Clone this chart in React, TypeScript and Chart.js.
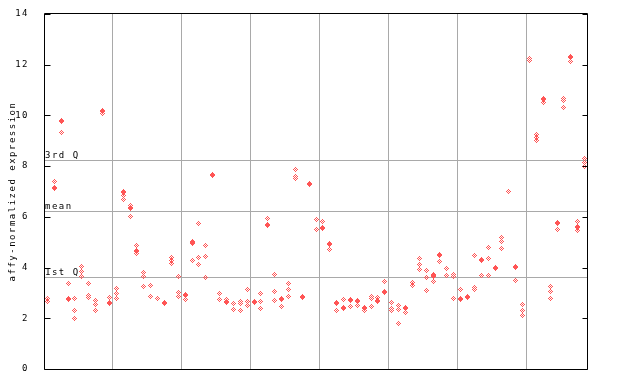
import React, { useEffect, useRef } from "react";
import { Chart, registerables } from "chart.js";

Chart.register(...registerables);

// replicate values for each of the 79 samples (left to right)
const sampleValues: number[][] = [
  [2.8, 2.65],
  [7.4, 7.15, 7.12],
  [9.8, 9.76, 9.33],
  [3.38, 2.78, 2.75],
  [2.79, 2.29, 2.01],
  [4.06, 3.85, 3.65],
  [3.38, 2.9, 2.81],
  [2.72, 2.56, 2.29],
  [10.2, 10.16, 10.08],
  [2.81, 2.62, 2.58],
  [3.18, 2.98, 2.79],
  [7.0, 6.96, 6.86, 6.69],
  [6.44, 6.37, 6.33, 6.03],
  [4.88, 4.69, 4.65, 4.56],
  [3.81, 3.63, 3.27],
  [3.3, 2.87],
  [2.79],
  [2.62, 2.58],
  [4.39, 4.29, 4.17],
  [3.63, 3.02, 2.87],
  [2.93, 2.89, 2.75],
  [5.04, 4.99, 4.95, 4.29],
  [5.74, 4.4, 4.13],
  [4.88, 4.44, 3.61],
  [7.68, 7.64],
  [2.98, 2.76],
  [2.75, 2.67, 2.63],
  [2.59, 2.35],
  [2.67, 2.58, 2.31],
  [3.14, 2.67, 2.51],
  [2.65, 2.61],
  [2.98, 2.67, 2.39],
  [5.94, 5.7, 5.66],
  [3.73, 3.06, 2.71],
  [2.79, 2.75, 2.47],
  [3.38, 3.14, 2.87],
  [7.87, 7.58, 7.5],
  [2.85, 2.81],
  [7.33, 7.29],
  [5.9, 5.51],
  [5.82, 5.59, 5.55],
  [4.96, 4.92, 4.72],
  [2.63, 2.59, 2.31],
  [2.75, 2.44, 2.4],
  [2.75, 2.71, 2.47],
  [2.71, 2.67, 2.51],
  [2.44, 2.4, 2.31],
  [2.85, 2.77, 2.47],
  [2.81, 2.71, 2.67],
  [3.46, 3.07, 3.03],
  [2.63, 2.39, 2.31],
  [2.51, 2.35, 1.8],
  [2.44, 2.4, 2.24],
  [3.4, 3.3],
  [4.34, 4.14, 3.93],
  [3.89, 3.61, 3.1],
  [3.73, 3.67, 3.63, 3.46],
  [4.53, 4.49, 4.25],
  [3.97, 3.69],
  [3.73, 3.66, 2.79],
  [3.14, 2.8, 2.76],
  [2.85, 2.81],
  [4.46, 3.2, 3.12],
  [4.33, 4.29, 3.69],
  [4.8, 4.36, 3.69],
  [4.01, 3.97],
  [5.2, 5.04, 4.76],
  [7.01],
  [4.05, 4.01, 3.5],
  [2.55, 2.3, 2.1],
  [12.25, 12.18],
  [9.25, 9.14, 9.03],
  [10.65, 10.61, 10.52],
  [3.27, 3.05, 2.79],
  [5.76, 5.72, 5.51],
  [10.67, 10.6, 10.32],
  [12.34, 12.3, 12.13],
  [5.8, 5.61, 5.57, 5.47],
  [8.31, 8.15, 7.99],
];

const yTickValues = [0, 2, 4, 6, 8, 10, 12, 14];
const groupBoundaries = [9.5, 19.5, 29.5, 39.5, 49.5, 59.5, 69.5];
const quartileValues = [3.63, 6.23, 8.23];
const quartileLabels = ["1st Q", "mean", "3rd Q"];
const yTitle = "affy-normalized expression";

const POINT_COLOR = "#ff5555";
const GRID_COLOR = "#a9a9a9";
const FONT = "DejaVu Sans Mono";

function makeDiamond(color: string): HTMLCanvasElement {
  const c = document.createElement("canvas");
  c.width = 5;
  c.height = 5;
  const g = c.getContext("2d")!;
  g.fillStyle = color;
  for (let y = 0; y < 5; y++) {
    for (let x = 0; x < 5; x++) {
      if (Math.abs(x - 2) + Math.abs(y - 2) <= 2 && (x + y) % 2 === 0) {
        g.fillRect(x, y, 1, 1);
      }
    }
  }
  return c;
}

const framePlugin = {
  id: "framePlugin",
  beforeDraw(chart: any) {
    chart.ctx.letterSpacing = "1.5px";
  },
  beforeDatasetsDraw(chart: any) {
    const { ctx, chartArea, scales } = chart;
    const y = scales.y;
    ctx.save();
    ctx.strokeStyle = GRID_COLOR;
    ctx.lineWidth = 1;
    quartileValues.forEach((v) => {
      const py = Math.round(y.getPixelForValue(v)) + 0.5;
      ctx.beginPath();
      ctx.moveTo(chartArea.left, py);
      ctx.lineTo(chartArea.right, py);
      ctx.stroke();
    });
    ctx.restore();
    ctx.imageSmoothingEnabled = false;
  },
  afterDraw(chart: any) {
    const { ctx, chartArea, scales } = chart;
    const y = scales.y;
    ctx.save();
    ctx.letterSpacing = "1.5px";
    ctx.font = `9px ${FONT}`;
    ctx.fillStyle = "#000";
    ctx.textAlign = "left";
    ctx.textBaseline = "bottom";
    quartileValues.forEach((v, i) => {
      const py = Math.round(y.getPixelForValue(v));
      ctx.fillText(quartileLabels[i], chartArea.left + 1, py);
    });
    ctx.strokeStyle = "#000";
    ctx.lineWidth = 1;
    const l = Math.floor(chartArea.left) + 0.5;
    const r = Math.floor(chartArea.right) - 0.5;
    const t = Math.floor(chartArea.top) - 0.5;
    const b = Math.floor(chartArea.bottom) + 0.5;
    ctx.beginPath();
    ctx.moveTo(l, t);
    ctx.lineTo(r, t);
    ctx.lineTo(r, b);
    ctx.lineTo(l, b);
    ctx.closePath();
    ctx.stroke();
    yTickValues.forEach((v) => {
      const py = Math.round(y.getPixelForValue(v)) + 0.5;
      ctx.beginPath();
      ctx.moveTo(l, py);
      ctx.lineTo(l + 6, py);
      ctx.moveTo(r, py);
      ctx.lineTo(r - 5, py);
      ctx.stroke();
    });
    ctx.restore();
    ctx.letterSpacing = "0px";
  },
};

export default function App() {
  const canvasRef = useRef<HTMLCanvasElement | null>(null);

  useEffect(() => {
    document.body.style.margin = "0";
    const canvas = canvasRef.current;
    if (!canvas) return;
    const diamond = makeDiamond(POINT_COLOR);
    const points = sampleValues.flatMap((vals, i) => vals.map((v) => ({ x: i, y: v })));

    const chart = new Chart(canvas, {
      type: "scatter",
      data: {
        datasets: [
          {
            data: points,
            pointStyle: diamond as any,
            pointRadius: 3,
            pointHoverRadius: 3,
            backgroundColor: POINT_COLOR,
            borderColor: POINT_COLOR,
          },
        ],
      },
      options: {
        responsive: false,
        animation: false,
        devicePixelRatio: 1,
        events: [],
        layout: { padding: { left: 0, right: 52, top: 14, bottom: 15 } },
        plugins: {
          legend: { display: false },
          tooltip: { enabled: false },
        },
        scales: {
          x: {
            type: "linear",
            min: -0.5,
            max: 78.5,
            afterBuildTicks: (s: any) => {
              s.ticks = groupBoundaries.map((v) => ({ value: v }));
            },
            afterFit: (s: any) => {
              s.height = 0;
            },
            ticks: { display: false },
            grid: { color: GRID_COLOR, lineWidth: 1, drawTicks: false },
            border: { display: false },
          },
          y: {
            type: "linear",
            min: 0,
            max: 14,
            afterBuildTicks: (s: any) => {
              s.ticks = yTickValues.map((v) => ({ value: v }));
            },
            afterFit: (s: any) => {
              s.width = 44;
            },
            ticks: {
              color: "#000",
              font: { family: FONT, size: 9 },
              padding: 7,
              autoSkip: false,
            },
            grid: { display: false },
            border: { display: false },
            title: {
              display: true,
              text: yTitle,
              color: "#000",
              font: { family: FONT, size: 9 },
              padding: { top: 7, bottom: 0 },
            },
          },
        },
      },
      plugins: [framePlugin],
    });

    return () => {
      chart.destroy();
    };
  }, []);

  return (
    <div style={{ width: 640, height: 384, position: "relative", background: "#fff" }}>
      <canvas ref={canvasRef} width={640} height={384} style={{ display: "block" }} />
    </div>
  );
}
